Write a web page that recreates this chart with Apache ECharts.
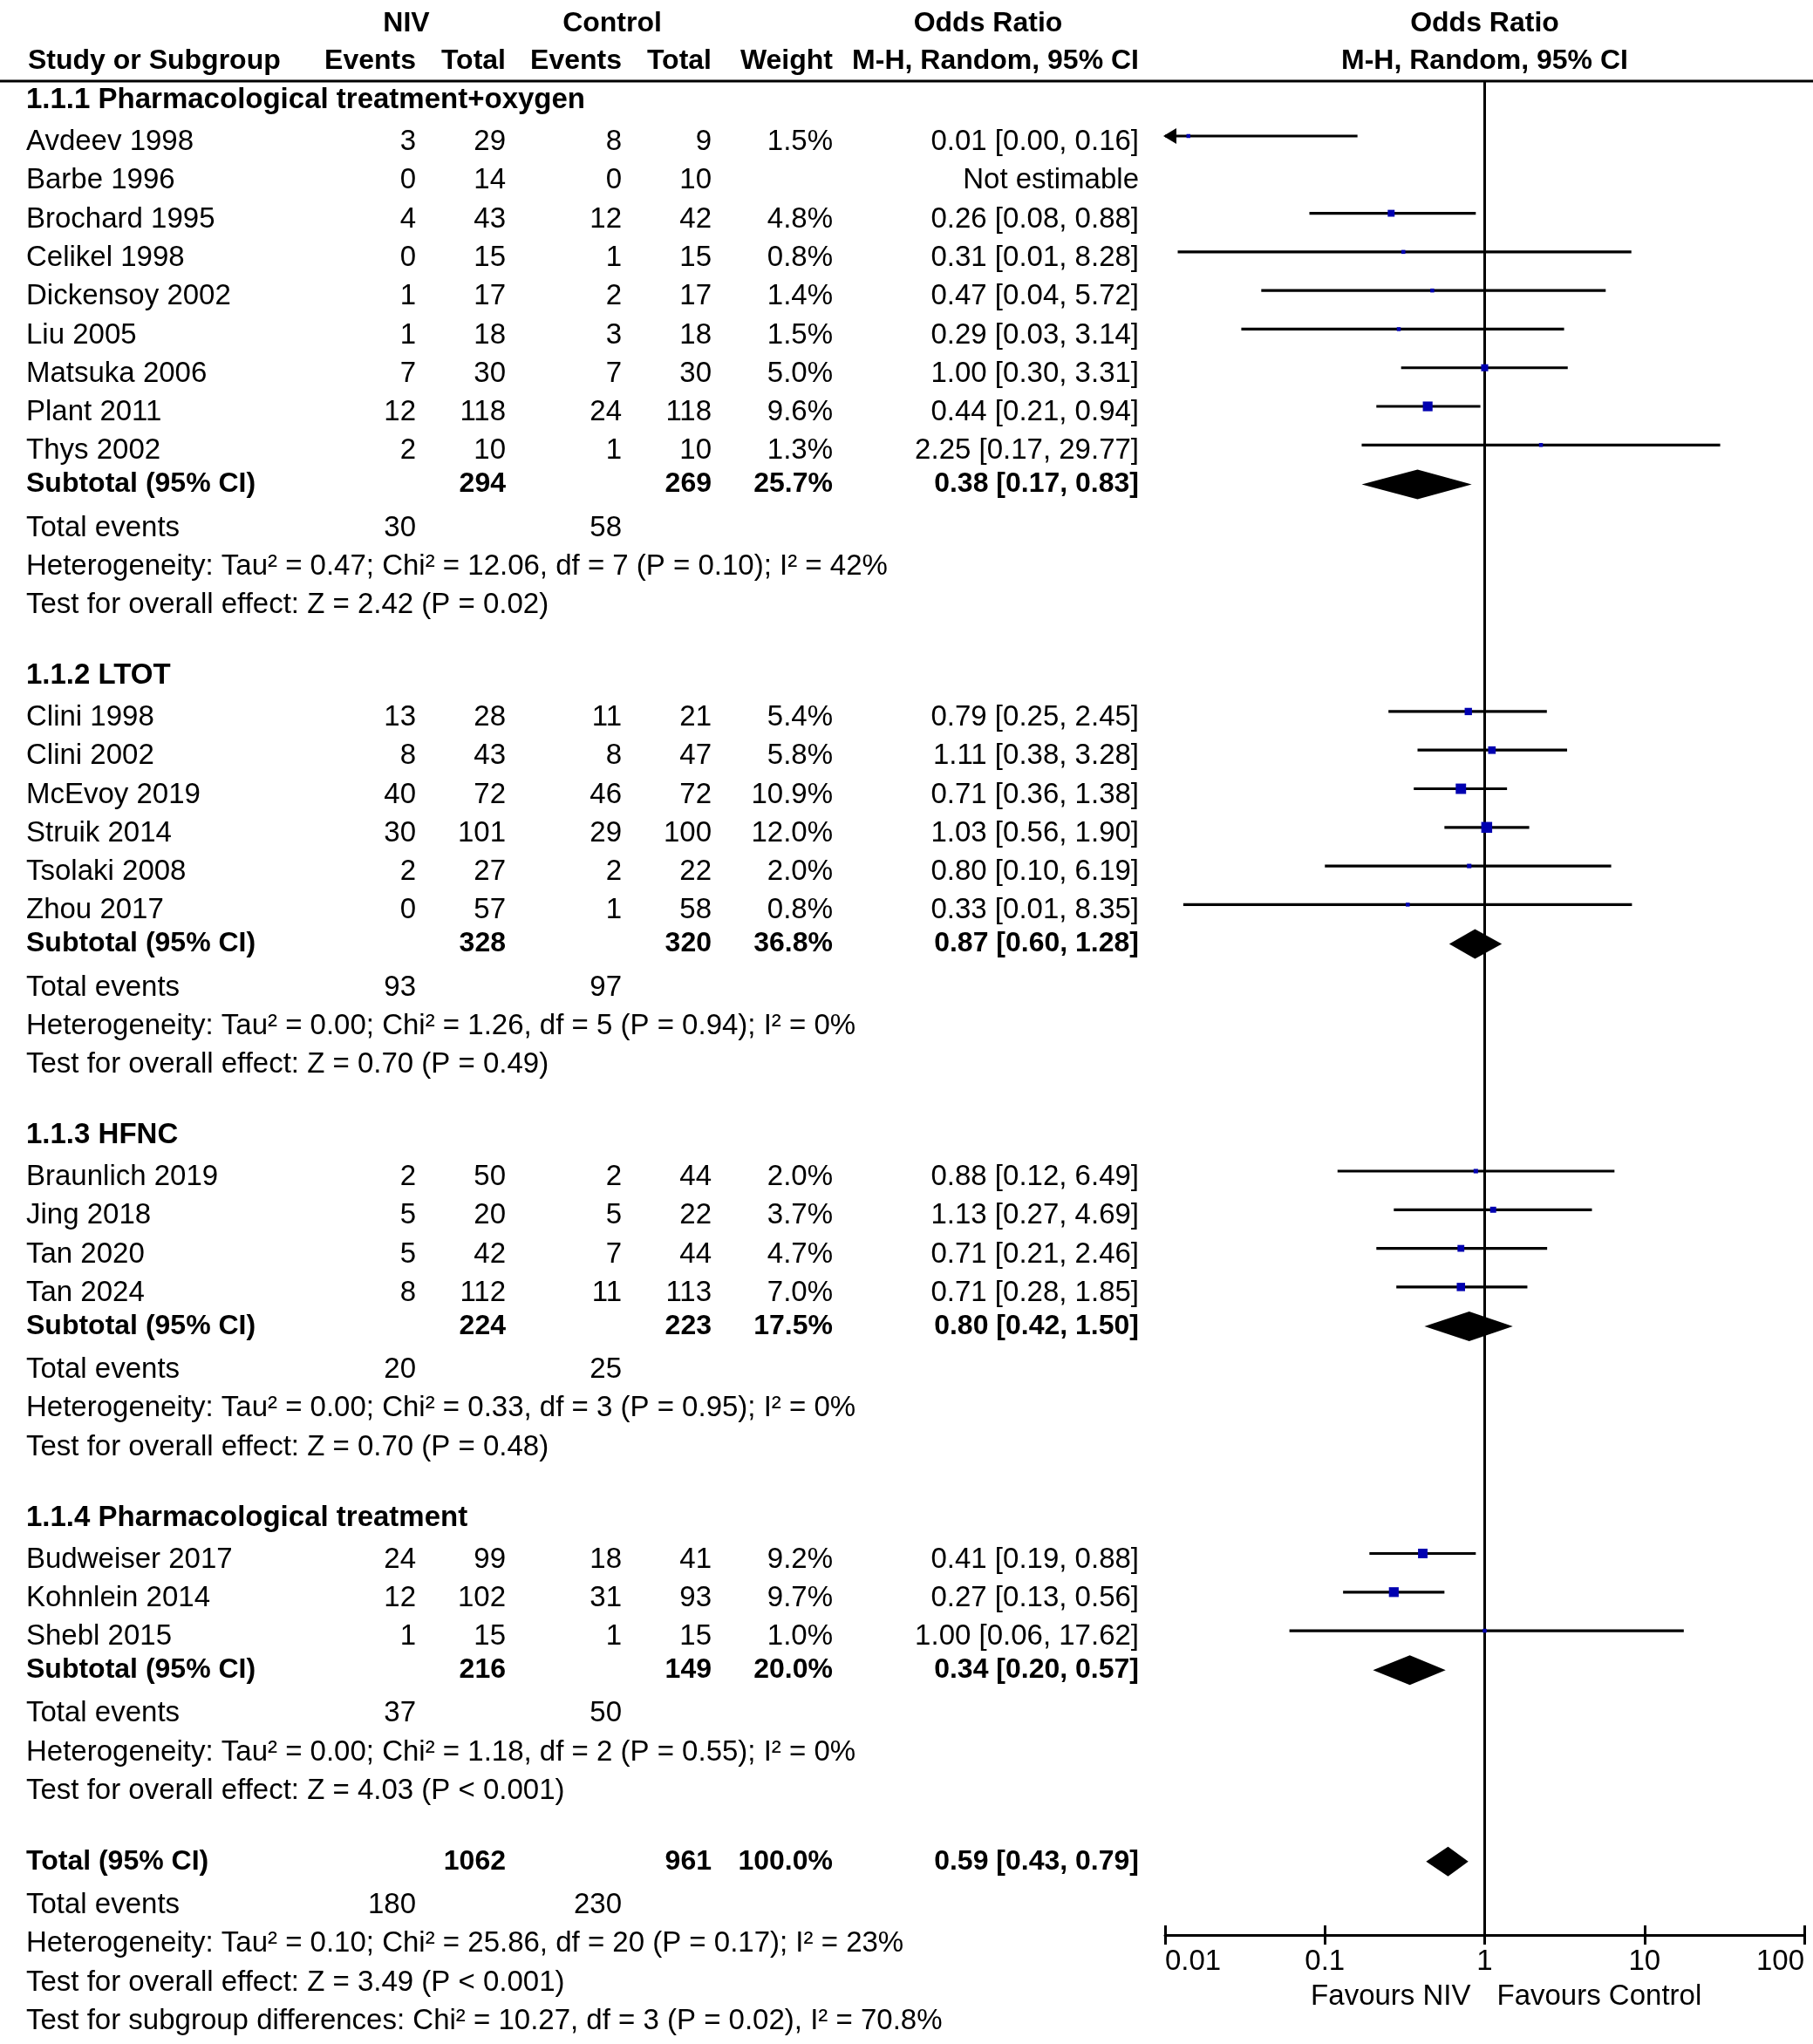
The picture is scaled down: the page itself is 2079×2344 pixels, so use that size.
<!DOCTYPE html>
<html><head><meta charset="utf-8">
<script src="https://cdn.jsdelivr.net/npm/echarts@6/dist/echarts.min.js"></script>
<style>html,body{margin:0;padding:0;background:#fff}#c{width:2079px;height:2344px}</style>
</head><body><div id="c"></div>
<script>
// ---------------- DATA ----------------
const groupTitles = ["1.1.1 Pharmacological treatment+oxygen", "1.1.2 LTOT", "1.1.3 HFNC", "1.1.4 Pharmacological treatment"];
const studyNames = ["Avdeev 1998","Barbe 1996","Brochard 1995","Celikel 1998","Dickensoy 2002","Liu 2005","Matsuka 2006","Plant 2011","Thys 2002",
  "Clini 1998","Clini 2002","McEvoy 2019","Struik 2014","Tsolaki 2008","Zhou 2017",
  "Braunlich 2019","Jing 2018","Tan 2020","Tan 2024",
  "Budweiser 2017","Kohnlein 2014","Shebl 2015"];
const studyGroup = [0,0,0,0,0,0,0,0,0, 1,1,1,1,1,1, 2,2,2,2, 3,3,3];
const nivEvents = [3,0,4,0,1,1,7,12,2, 13,8,40,30,2,0, 2,5,5,8, 24,12,1];
const nivTotal  = [29,14,43,15,17,18,30,118,10, 28,43,72,101,27,57, 50,20,42,112, 99,102,15];
const ctlEvents = [8,0,12,1,2,3,7,24,1, 11,8,46,29,2,1, 2,5,7,11, 18,31,1];
const ctlTotal  = [9,10,42,15,17,18,30,118,10, 21,47,72,100,22,58, 44,22,44,113, 41,93,15];
const weightPct = [1.5,null,4.8,0.8,1.4,1.5,5.0,9.6,1.3, 5.4,5.8,10.9,12.0,2.0,0.8, 2.0,3.7,4.7,7.0, 9.2,9.7,1.0];
const oddsRatio = [0.014,null,0.26,0.31,0.47,0.29,1.00,0.44,2.25, 0.79,1.11,0.71,1.03,0.80,0.33, 0.88,1.13,0.71,0.71, 0.41,0.27,1.00];
const orLow     = [0.00,null,0.08,0.012,0.04,0.03,0.30,0.21,0.17, 0.25,0.38,0.36,0.56,0.10,0.013, 0.12,0.27,0.21,0.28, 0.19,0.13,0.06];
const orHigh    = [0.16,null,0.88,8.28,5.72,3.14,3.31,0.94,29.77, 2.45,3.28,1.38,1.90,6.19,8.35, 6.49,4.69,2.46,1.85, 0.88,0.56,17.62];

const subNivTotal = [294,328,224,216];
const subCtlTotal = [269,320,223,149];
const subWeight = [25.7,36.8,17.5,20.0];
const subOR = [0.38,0.87,0.80,0.34];
const subLow = [0.17,0.60,0.42,0.20];
const subHigh = [0.83,1.28,1.50,0.57];
const subNivEvents = [30,93,20,37];
const subCtlEvents = [58,97,25,50];
const subHeterogeneity = [
  "Heterogeneity: Tau² = 0.47; Chi² = 12.06, df = 7 (P = 0.10); I² = 42%",
  "Heterogeneity: Tau² = 0.00; Chi² = 1.26, df = 5 (P = 0.94); I² = 0%",
  "Heterogeneity: Tau² = 0.00; Chi² = 0.33, df = 3 (P = 0.95); I² = 0%",
  "Heterogeneity: Tau² = 0.00; Chi² = 1.18, df = 2 (P = 0.55); I² = 0%"];
const subOverall = [
  "Test for overall effect: Z = 2.42 (P = 0.02)",
  "Test for overall effect: Z = 0.70 (P = 0.49)",
  "Test for overall effect: Z = 0.70 (P = 0.48)",
  "Test for overall effect: Z = 4.03 (P < 0.001)"];

const totalCounts = [1062, 961];
const totalWeight = 100.0;
const totalOR = [0.59, 0.43, 0.79];
const totalEvents = [180, 230];
const totalHeterogeneity = "Heterogeneity: Tau² = 0.10; Chi² = 25.86, df = 20 (P = 0.17); I² = 23%";
const totalOverall = "Test for overall effect: Z = 3.49 (P < 0.001)";
const subgroupDiff = "Test for subgroup differences: Chi² = 10.27, df = 3 (P = 0.02), I² = 70.8%";

const axisTickValues = [0.01, 0.1, 1, 10, 100];
const axisTickLabels = ["0.01", "0.1", "1", "10", "100"];
const favourLabels = ["Favours NIV", "Favours Control"];

// ---------------- LAYOUT ----------------
const X_MIN = axisTickValues[0], X_MAX = axisTickValues[axisTickValues.length - 1];
const Y_MAX = 48;
const rows = [];
rows.push({type:'head1', y:-1.49});
rows.push({type:'head2', y:-0.52});
let y = 0.5;
for (let g = 0; g < groupTitles.length; g++) {
  rows.push({type:'group', y, g});
  y += 1.08;
  let first = true;
  studyNames.forEach((n, i) => {
    if (studyGroup[i] !== g) return;
    if (!first) y += 1;
    first = false;
    rows.push({type:'study', y, i});
  });
  y += 0.86; rows.push({type:'sub', y, g});
  y += 1.13; rows.push({type:'events', y, g});
  y += 1; rows.push({type:'het', y, g});
  y += 1; rows.push({type:'test', y, g});
  y += 1.83;
}
rows.push({type:'total', y});
y += 1.13; rows.push({type:'tevents', y});
y += 1; rows.push({type:'thet', y});
y += 1; rows.push({type:'ttest', y});
y += 1; rows.push({type:'tsub', y});
rows.push({type:'favours', y:49.6});

const FONT = '"Liberation Sans", Arial, Helvetica, sans-serif';
const FS = 33, FSB = 32, FSG = 33;
const COL = {name:30, nivEv:477, nivTot:580, ctlEv:713, ctlTot:816, weight:955, or:1306, niv:466, control:702, orHead:1133, subHead:32};

function T(x, yy, text, align, bold, size) {
  const fs = size || (bold ? FSB : FS);
  return {type:'text', x:x, y:yy, silent:true,
    style:{text:String(text), fill:'#000', font:(bold ? 'bold ' : '') + fs + 'px ' + FONT,
      textAlign:align || 'left', textVerticalAlign:'middle'}};
}
const f2 = v => v.toFixed(2);
const orText = (e, l, h) => f2(e) + ' [' + f2(l) + ', ' + f2(h) + ']';
const pct = w => w.toFixed(1) + '%';

function renderText(params, api) {
  const r = rows[api.value(2)];
  const p = api.coord([1, r.y]);
  const cx = p[0], cy = p[1];
  const ch = [];
  switch (r.type) {
    case 'head1':
      ch.push(T(COL.niv, cy, 'NIV', 'center', true), T(COL.control, cy, 'Control', 'center', true),
        T(COL.orHead, cy, 'Odds Ratio', 'center', true), T(cx, cy, 'Odds Ratio', 'center', true));
      break;
    case 'head2': {
      ch.push(T(COL.subHead, cy, 'Study or Subgroup', 'left', true),
        T(COL.nivEv, cy, 'Events', 'right', true), T(COL.nivTot, cy, 'Total', 'right', true),
        T(COL.ctlEv, cy, 'Events', 'right', true), T(COL.ctlTot, cy, 'Total', 'right', true),
        T(COL.weight, cy, 'Weight', 'right', true), T(COL.or, cy, 'M-H, Random, 95% CI', 'right', true),
        T(cx, cy, 'M-H, Random, 95% CI', 'center', true));
      const ly = api.coord([1, 0])[1];
      ch.push({type:'line', silent:true, shape:{x1:0, y1:ly, x2:api.getWidth(), y2:ly}, style:{stroke:'#000', lineWidth:3}});
      break;
    }
    case 'group':
      ch.push(T(COL.name, cy, groupTitles[r.g], 'left', true, FSG));
      break;
    case 'study': {
      const i = r.i;
      ch.push(T(COL.name, cy, studyNames[i], 'left'),
        T(COL.nivEv, cy, nivEvents[i], 'right'), T(COL.nivTot, cy, nivTotal[i], 'right'),
        T(COL.ctlEv, cy, ctlEvents[i], 'right'), T(COL.ctlTot, cy, ctlTotal[i], 'right'));
      if (weightPct[i] != null) ch.push(T(COL.weight, cy, pct(weightPct[i]), 'right'));
      ch.push(T(COL.or, cy, oddsRatio[i] == null ? 'Not estimable' : orText(oddsRatio[i], orLow[i], orHigh[i]), 'right'));
      break;
    }
    case 'sub':
      ch.push(T(COL.name, cy, 'Subtotal (95% CI)', 'left', true),
        T(COL.nivTot, cy, subNivTotal[r.g], 'right', true), T(COL.ctlTot, cy, subCtlTotal[r.g], 'right', true),
        T(COL.weight, cy, pct(subWeight[r.g]), 'right', true),
        T(COL.or, cy, orText(subOR[r.g], subLow[r.g], subHigh[r.g]), 'right', true));
      break;
    case 'events':
      ch.push(T(COL.name, cy, 'Total events', 'left'), T(COL.nivEv, cy, subNivEvents[r.g], 'right'), T(COL.ctlEv, cy, subCtlEvents[r.g], 'right'));
      break;
    case 'het': ch.push(T(COL.name, cy, subHeterogeneity[r.g], 'left')); break;
    case 'test': ch.push(T(COL.name, cy, subOverall[r.g], 'left')); break;
    case 'total':
      ch.push(T(COL.name, cy, 'Total (95% CI)', 'left', true),
        T(COL.nivTot, cy, totalCounts[0], 'right', true), T(COL.ctlTot, cy, totalCounts[1], 'right', true),
        T(COL.weight, cy, pct(totalWeight), 'right', true),
        T(COL.or, cy, orText(totalOR[0], totalOR[1], totalOR[2]), 'right', true));
      break;
    case 'tevents':
      ch.push(T(COL.name, cy, 'Total events', 'left'), T(COL.nivEv, cy, totalEvents[0], 'right'), T(COL.ctlEv, cy, totalEvents[1], 'right'));
      break;
    case 'thet': ch.push(T(COL.name, cy, totalHeterogeneity, 'left')); break;
    case 'ttest': ch.push(T(COL.name, cy, totalOverall, 'left')); break;
    case 'tsub': ch.push(T(COL.name, cy, subgroupDiff, 'left')); break;
    case 'favours':
      ch.push(T(cx - 16, cy, favourLabels[0], 'right'), T(cx + 14, cy, favourLabels[1], 'left'));
      break;
  }
  return {type:'group', children:ch};
}

const markRows = [[1, 0, -1]];
rows.forEach((r, k) => {
  if ((r.type === 'study' && oddsRatio[r.i] != null) || r.type === 'sub' || r.type === 'total') markRows.push([1, r.y, k]);
});

function renderMarks(params, api) {
  const k = api.value(2);
  if (k < 0) {
    const a = api.coord([1, 0]), b = api.coord([1, Y_MAX]);
    return {type:'line', silent:true, shape:{x1:a[0], y1:a[1], x2:b[0], y2:b[1]}, style:{stroke:'#000', lineWidth:3}};
  }
  const r = rows[k];
  let est, lo, hi;
  if (r.type === 'study') { est = oddsRatio[r.i]; lo = orLow[r.i]; hi = orHigh[r.i]; }
  else if (r.type === 'sub') { est = subOR[r.g]; lo = subLow[r.g]; hi = subHigh[r.g]; }
  else { est = totalOR[0]; lo = totalOR[1]; hi = totalOR[2]; }
  const cyBase = api.coord([1, r.y])[1];
  const xe = api.coord([Math.max(est, X_MIN), r.y])[0];
  const xl = api.coord([Math.max(lo, X_MIN), r.y])[0];
  const xh = api.coord([Math.min(hi, X_MAX), r.y])[0];
  const ch = [];
  if (r.type === 'study') {
    const cy = cyBase - 7;
    ch.push({type:'line', silent:true, shape:{x1:xl, y1:cy, x2:xh, y2:cy}, style:{stroke:'#000', lineWidth:3.2}});
    if (lo < X_MIN) {
      ch.push({type:'polygon', silent:true, shape:{points:[[xl - 2, cy], [xl + 13, cy - 9], [xl + 13, cy + 9]]}, style:{fill:'#000'}});
    }
    const w = Math.max(4.5, 3.6 * Math.sqrt(weightPct[r.i]));
    ch.push({type:'rect', silent:true, shape:{x:xe - w / 2, y:cy - w / 2, width:w, height:w}, style:{fill:'#0000b0'}});
  } else {
    const cy = cyBase;
    const hh = 17;
    ch.push({type:'polygon', silent:true, shape:{points:[[xl, cy], [xe, cy - hh], [xh, cy], [xe, cy + hh]]}, style:{fill:'#000'}});
  }
  return {type:'group', children:ch};
}

const labelFmt = v => {
  let best = 0;
  axisTickValues.forEach((t, i) => { if (Math.abs(Math.log10(t) - Math.log10(v)) < Math.abs(Math.log10(axisTickValues[best]) - Math.log10(v))) best = i; });
  return axisTickLabels[best];
};

const chart = echarts.init(document.getElementById('c'), null, {renderer:'canvas', width:2079, height:2344});
chart.setOption({
  animation:false,
  backgroundColor:'#fff',
  grid:{left:1336, right:10, top:93, bottom:125, containLabel:false},
  xAxis:[{
    type:'log', logBase:10, min:X_MIN, max:X_MAX, position:'bottom',
    axisLine:{show:true, onZero:false, lineStyle:{color:'#000', width:3}},
    axisTick:{show:true, inside:false, length:11, lineStyle:{color:'#000', width:3}},
    minorTick:{show:false},
    axisLabel:{show:true, fontSize:33, color:'#000', fontFamily:FONT, margin:14, alignMinLabel:'left', alignMaxLabel:'right', formatter:labelFmt},
    splitLine:{show:false}
  }, {
    type:'log', logBase:10, min:X_MIN, max:X_MAX, position:'bottom', offset:0,
    axisLine:{show:false, onZero:false},
    axisTick:{show:true, inside:true, length:11, lineStyle:{color:'#000', width:3}},
    axisLabel:{show:false},
    splitLine:{show:false}
  }],
  yAxis:{type:'value', inverse:true, min:0, max:Y_MAX, show:false, splitLine:{show:false}},
  series:[
    {type:'custom', name:'marks', xAxisIndex:0, yAxisIndex:0, clip:false, silent:true, renderItem:renderMarks, data:markRows, z:2},
    {type:'custom', name:'table', xAxisIndex:0, yAxisIndex:0, clip:false, silent:true, renderItem:renderText, data:rows.map((r, k) => [1, r.y, k]), z:3}
  ]
});
</script>
</body></html>
